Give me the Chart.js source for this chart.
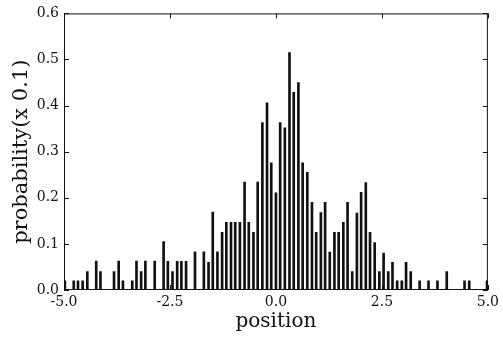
<!DOCTYPE html>
<html>
<head>
<meta charset="utf-8">
<script src="https://cdn.jsdelivr.net/npm/chart.js@4"></script>
<style>
  html, body { margin: 0; padding: 0; background: #fff; }
  #wrap { width: 503px; height: 340px; }
</style>
</head>
<body>
<div id="wrap"><canvas id="probChart" width="503" height="340"></canvas></div>
<script>
// positions of the bars and their probability (units of 0.1)
const positions = [
  -4.98, -4.77, -4.67, -4.56, -4.45, -4.24, -4.14, -3.82, -3.71, -3.61,
  -3.39, -3.29, -3.18, -3.08, -2.86, -2.65, -2.55, -2.44, -2.33, -2.23,
  -2.12, -1.91, -1.70, -1.59, -1.49, -1.38, -1.27, -1.17, -1.06, -0.96,
  -0.85, -0.74, -0.64, -0.53, -0.43, -0.32, -0.21, -0.11, 0.00, 0.10,
  0.21, 0.32, 0.42, 0.53, 0.63, 0.74, 0.85, 0.95, 1.06, 1.16,
  1.27, 1.38, 1.48, 1.59, 1.69, 1.80, 1.91, 2.01, 2.12, 2.22,
  2.33, 2.44, 2.54, 2.65, 2.75, 2.86, 2.97, 3.07, 3.18, 3.39,
  3.60, 3.81, 4.03, 4.45, 4.56, 4.98
];
const probs = [
  0.02, 0.02, 0.02, 0.02, 0.04, 0.063, 0.04, 0.04, 0.063, 0.02,
  0.02, 0.063, 0.04, 0.063, 0.063, 0.105, 0.062, 0.04, 0.062, 0.062,
  0.062, 0.083, 0.083, 0.06, 0.169, 0.083, 0.125, 0.147, 0.147, 0.147,
  0.147, 0.234, 0.147, 0.125, 0.234, 0.363, 0.406, 0.276, 0.211, 0.363,
  0.352, 0.515, 0.429, 0.45, 0.276, 0.255, 0.19, 0.125, 0.168, 0.19,
  0.082, 0.125, 0.125, 0.147, 0.19, 0.04, 0.167, 0.212, 0.233, 0.125,
  0.103, 0.04, 0.08, 0.04, 0.06, 0.02, 0.02, 0.06, 0.04, 0.02,
  0.02, 0.02, 0.04, 0.02, 0.02, 0.02
];
const xTicks = [-5, -2.5, 0, 2.5, 5];
const yTicks = [0, 0.1, 0.2, 0.3, 0.4, 0.5, 0.6];

const serif = "'DejaVu Serif', 'Liberation Serif', serif";

// box round the plot with inward tick marks
const frame = {
  id: 'frame',
  afterDatasetsDraw(chart) {
    const { ctx, chartArea: a, scales: { x, y } } = chart;
    ctx.save();
    ctx.strokeStyle = '#111';
    ctx.lineWidth = 1;
    ctx.strokeRect(a.left + 0.5, a.top + 0.5, a.right - a.left - 1, a.bottom - a.top - 1);
    ctx.beginPath();
    xTicks.forEach(v => {
      const px = Math.round(x.getPixelForValue(v)) + 0.5;
      ctx.moveTo(px, a.bottom); ctx.lineTo(px, a.bottom - 5);
      ctx.moveTo(px, a.top); ctx.lineTo(px, a.top + 5);
    });
    yTicks.forEach(v => {
      const py = Math.round(y.getPixelForValue(v)) + 0.5;
      ctx.moveTo(a.left, py); ctx.lineTo(a.left + 5, py);
      ctx.moveTo(a.right, py); ctx.lineTo(a.right - 5, py);
    });
    ctx.stroke();
    ctx.restore();
  }
};

new Chart(document.getElementById('probChart'), {
  type: 'bar',
  data: {
    datasets: [{
      data: positions.map((p, i) => ({ x: p, y: probs[i] })),
      backgroundColor: '#111',
      barThickness: 2
    }]
  },
  options: {
    responsive: false,
    animation: false,
    layout: { padding: { top: 9, right: 14, left: 0, bottom: 0 } },
    plugins: { legend: { display: false }, tooltip: { enabled: false } },
    scales: {
      x: {
        type: 'linear',
        offset: false,
        min: -5,
        max: 5,
        afterBuildTicks: s => { s.ticks = xTicks.map(v => ({ value: v })); },
        afterFit: s => { s.height = 50; },
        grid: { display: false, drawTicks: false },
        border: { display: false },
        ticks: {
          color: '#111',
          padding: 4,
          maxRotation: 0,
          font: { family: serif, size: 14 },
          callback: v => v.toFixed(1)
        },
        title: {
          display: true,
          text: 'position',
          color: '#111',
          font: { family: serif, size: 20 },
          padding: { top: 0, bottom: 6 }
        }
      },
      y: {
        min: 0,
        max: 0.6,
        afterBuildTicks: s => { s.ticks = yTicks.map(v => ({ value: v })); },
        afterFit: s => { s.width = 64; },
        grid: { display: false, drawTicks: false },
        border: { display: false },
        ticks: {
          color: '#111',
          padding: 5,
          font: { family: serif, size: 14 },
          callback: v => v.toFixed(1)
        },
        title: {
          display: true,
          text: 'probability(x 0.1)',
          color: '#111',
          font: { family: serif, size: 21 },
          padding: { top: 9, bottom: 0 }
        }
      }
    }
  },
  plugins: [frame]
});
</script>
</body>
</html>
